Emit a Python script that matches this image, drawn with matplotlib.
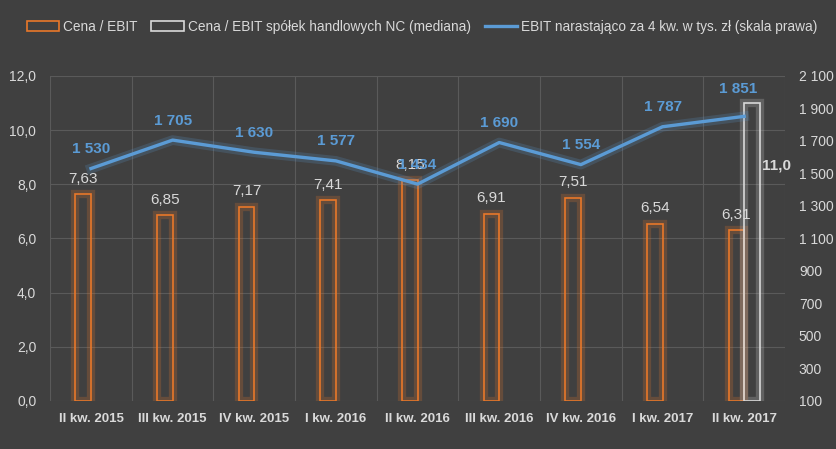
import matplotlib
matplotlib.use("Agg")
import matplotlib.pyplot as plt
import matplotlib.patheffects as pe
from matplotlib.patches import Patch
from matplotlib.lines import Line2D
import numpy as np

quarters = ['II kw. 2015', 'III kw. 2015', 'IV kw. 2015', 'I kw. 2016', 'II kw. 2016',
            'III kw. 2016', 'IV kw. 2016', 'I kw. 2017', 'II kw. 2017']
cena_ebit = [7.63, 6.85, 7.17, 7.41, 8.15, 6.91, 7.51, 6.54, 6.31]
mediana = [np.nan] * 8 + [11.0]
ebit = [1530, 1705, 1630, 1577, 1434, 1690, 1554, 1787, 1851]

BG = '#404040'
ORANGE = '#E9782A'
WHITE = '#D9D9D9'
BLUE = '#5B9BD5'
TXT = '#D9D9D9'
GRID = '#5A5A5A'

plt.rcParams['font.family'] = ['Liberation Sans', 'DejaVu Sans']

fig = plt.figure(figsize=(8.36, 4.49), dpi=100, facecolor=BG)
ax1 = fig.add_axes([0.060, 0.107, 0.879, 0.724])
ax1.set_facecolor(BG)
ax2 = ax1.twinx()

x = np.arange(len(quarters))
w = 0.19

glow_o = [pe.Stroke(linewidth=6, foreground=ORANGE, alpha=0.22), pe.Normal()]
glow_w = [pe.Stroke(linewidth=6, foreground=WHITE, alpha=0.22), pe.Normal()]

b1 = ax1.bar(x - w / 2, cena_ebit, w, facecolor='none', edgecolor=ORANGE, linewidth=1.2, zorder=3)
for b in b1:
    b.set_path_effects(glow_o)
b2 = ax1.bar(x + w / 2, mediana, w, facecolor='none', edgecolor=WHITE, linewidth=1.2, zorder=3)
for b in b2:
    b.set_path_effects(glow_w)

for xi, v in zip(x, cena_ebit):
    ax1.annotate(('%.2f' % v).replace('.', ','), (xi - w / 2, v), xytext=(0, 6),
                 textcoords='offset points', ha='center', va='bottom', color=TXT, fontsize=11)
for xi, v in zip(x, mediana):
    if not np.isnan(v):
        ax1.annotate(('%.1f' % v).replace('.', ','), (xi + w / 2, v - 2.3), xytext=(18, 0),
                     textcoords='offset points', ha='center', va='center', color=TXT,
                     fontsize=11, fontweight='bold')

ax1.set_xlim(-0.5, len(quarters) - 0.5)
ax1.set_ylim(0, 12)
ax1.set_yticks(np.arange(0, 12.1, 2))
ax1.set_yticklabels([('%.1f' % t).replace('.', ',') for t in np.arange(0, 12.1, 2)])
ax1.set_xticks(x)
ax1.set_xticklabels(quarters, fontweight='bold', fontsize=9)
ax1.set_xticks(np.arange(-0.5, len(quarters)), minor=True)
ax1.grid(True, axis='y', color=GRID, linewidth=0.8, zorder=0)
ax1.grid(True, axis='x', which='minor', color=GRID, linewidth=0.8, zorder=0)
ax1.set_axisbelow(True)
ax1.tick_params(axis='both', which='both', length=0, colors=TXT, labelsize=10)
ax1.tick_params(axis='x', labelsize=9.5, pad=9)
ax1.tick_params(axis='y', pad=10)

ax2.plot(x, ebit, color=BLUE, linewidth=2.4, zorder=4,
         path_effects=[pe.Stroke(linewidth=7, foreground=BLUE, alpha=0.2), pe.Normal()])
for i, (xi, v) in enumerate(zip(x, ebit)):
    dy = 15 if i == len(ebit) - 1 else 9
    dx = -4 if i == len(ebit) - 1 else 0
    ax2.annotate('{:,}'.format(v).replace(',', ' '), (xi, v), xytext=(dx, dy),
                 textcoords='offset points', ha='center', va='bottom', color=BLUE,
                 fontsize=11, fontweight='bold')
ax2.set_ylim(100, 2100)
ax2.set_yticks(np.arange(100, 2101, 200))
ax2.set_yticklabels(['{:,}'.format(t).replace(',', ' ') for t in np.arange(100, 2101, 200)])
ax2.tick_params(axis='y', length=0, colors=TXT, labelsize=10, pad=10)

for ax in (ax1, ax2):
    for s in ax.spines.values():
        s.set_visible(False)

handles = [Patch(facecolor='none', edgecolor=ORANGE, linewidth=1.2),
           Patch(facecolor='none', edgecolor=WHITE, linewidth=1.2),
           Line2D([], [], color=BLUE, linewidth=2.4)]
labels = ['Cena / EBIT', 'Cena / EBIT spółek handlowych NC (mediana)',
          'EBIT narastająco za 4 kw. w tys. zł (skala prawa)']
fig.legend(handles, labels, loc='center', bbox_to_anchor=(0.505, 0.94), ncol=3, frameon=False,
           fontsize=9.8, labelcolor=TXT, handlelength=2.4, handleheight=0.8,
           handletextpad=0.3, columnspacing=1.0)

fig.savefig('out.png', dpi=100, facecolor=BG)
